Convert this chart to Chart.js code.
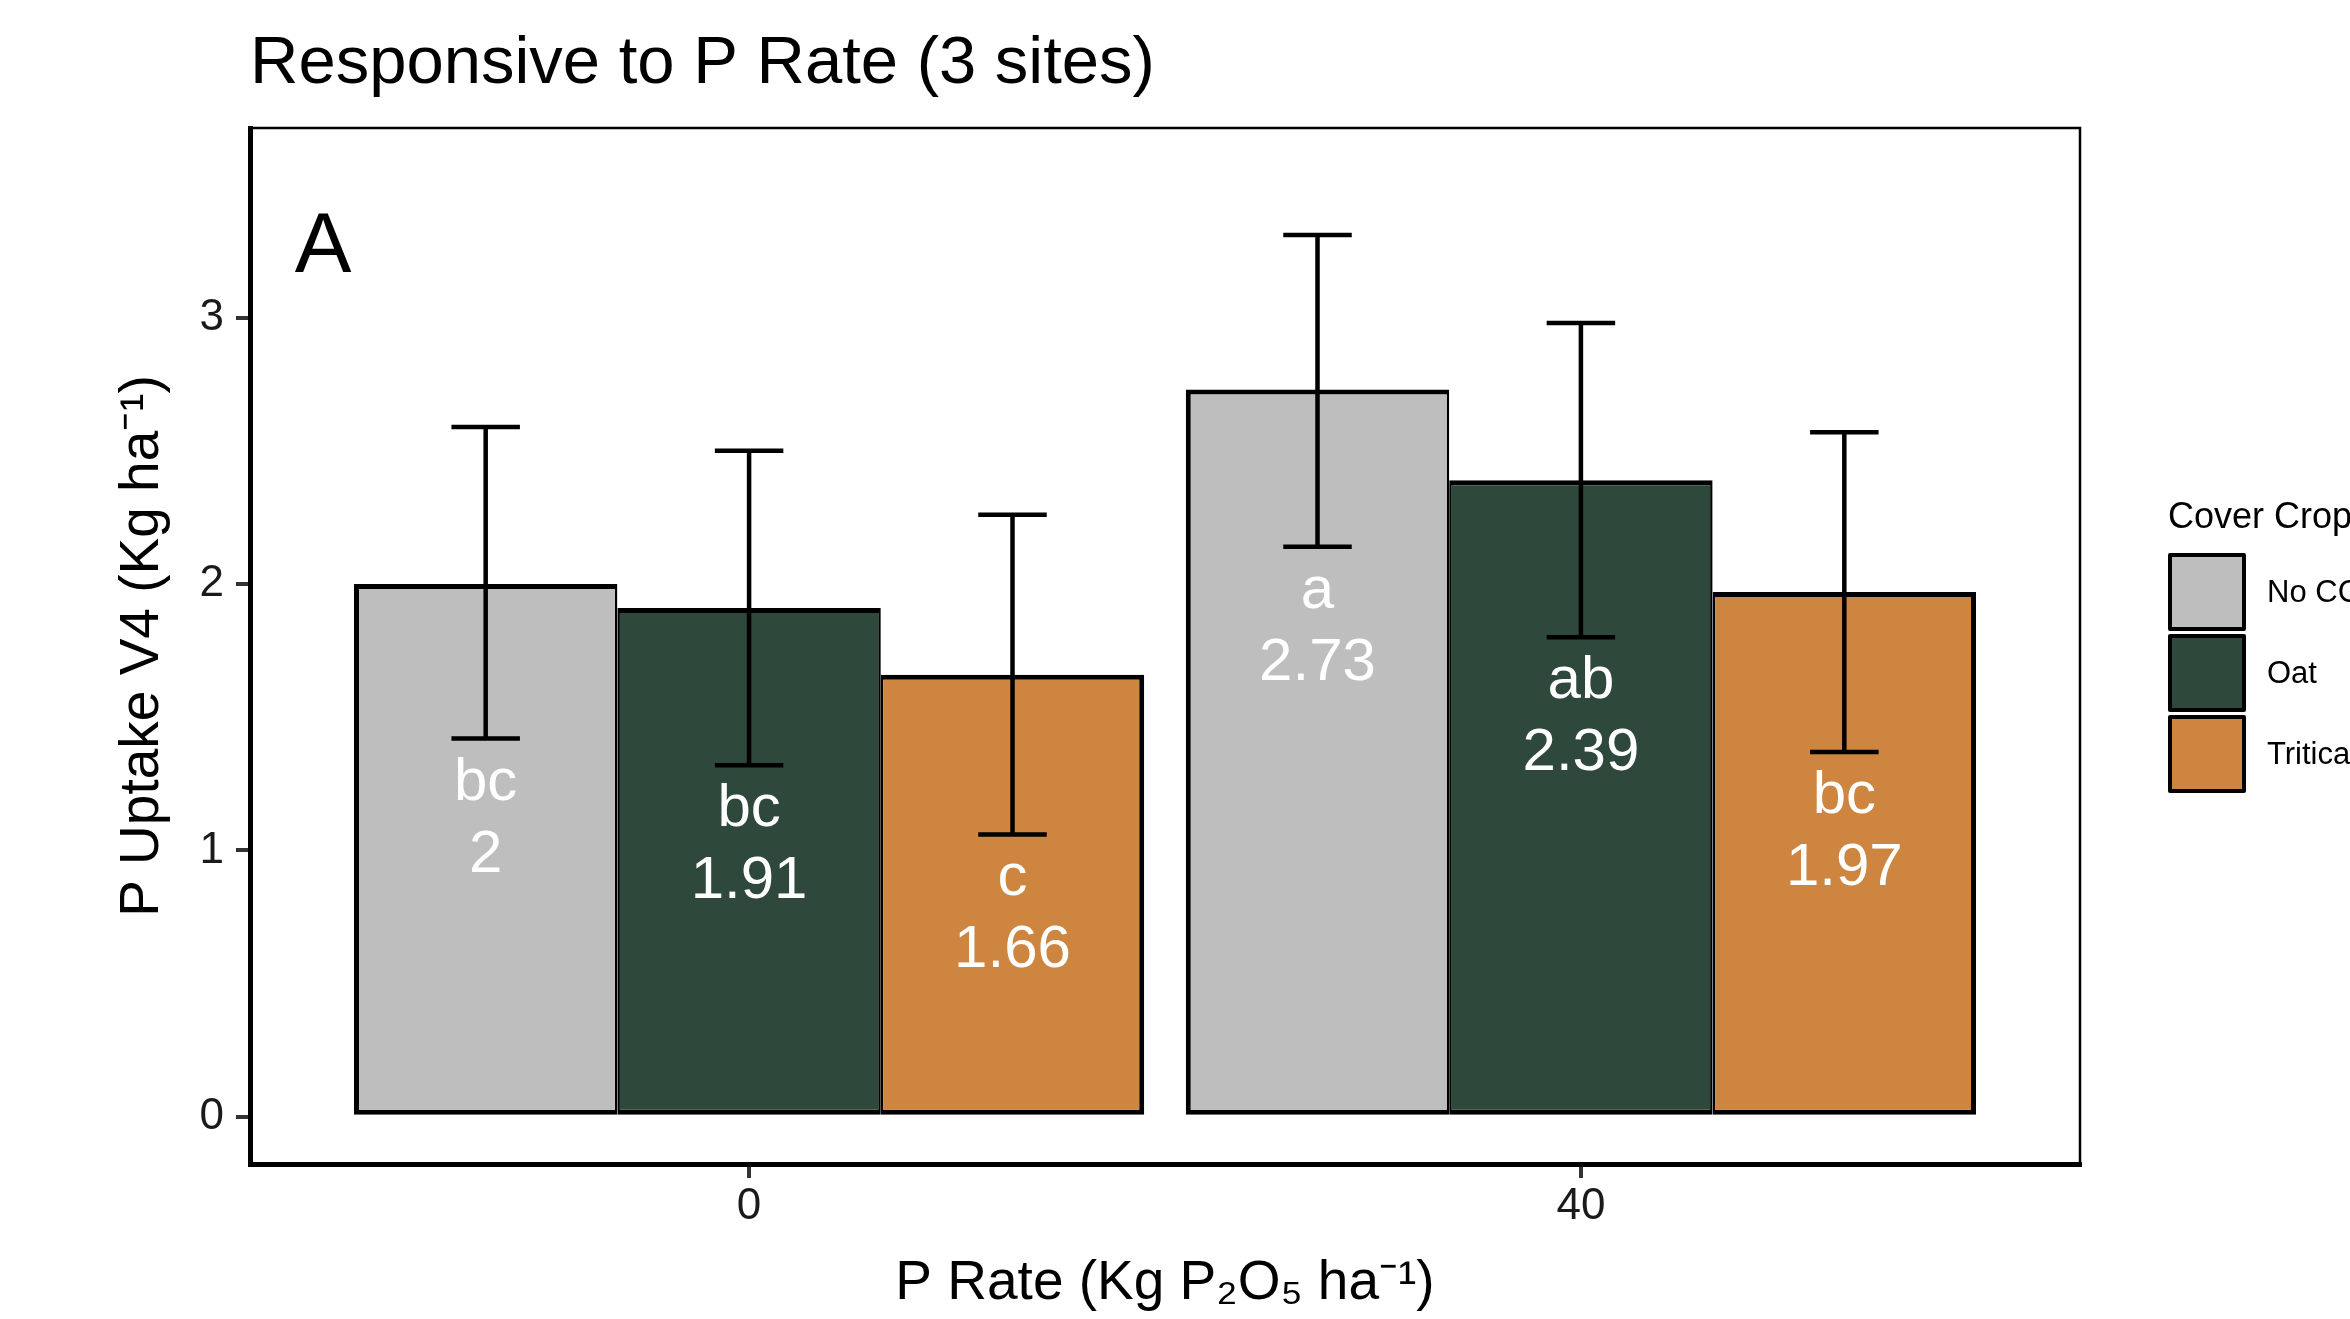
<!DOCTYPE html>
<html>
<head>
<meta charset="utf-8">
<title>Responsive to P Rate (3 sites)</title>
<script src="https://cdn.jsdelivr.net/npm/chart.js@4.4.1/dist/chart.umd.min.js"></script>
<style>
  html, body { margin: 0; padding: 0; background: #fff; }
</style>
</head>
<body>
<canvas id="chart" width="2350" height="1319"></canvas>
<script>
// --- Data ---
const chartTitle = 'Responsive to P Rate (3 sites)';
const panelTag = 'A';
const categories = ['0', '40'];              // P rate (kg P2O5 / ha)
const crops = ['No CC', 'Oat', 'Triticale']; // cover crop groups

const noCC = [2, 2.73];
const oat = [1.91, 2.39];
const triticale = [1.66, 1.97];

// error bar ends
const noCCLow = [1.42, 2.14];
const noCCHigh = [2.59, 3.31];
const oatLow = [1.32, 1.80];
const oatHigh = [2.50, 2.98];
const triticaleLow = [1.06, 1.37];
const triticaleHigh = [2.26, 2.57];

// mean separation letters
const noCCLetters = ['bc', 'a'];
const oatLetters = ['bc', 'ab'];
const triticaleLetters = ['c', 'bc'];

const yTicks = [0, 1, 2, 3];

// --- Styling ---
Chart.defaults.font.family = '"Liberation Sans", Arial, Helvetica, sans-serif';
Chart.defaults.color = '#000';

const seriesValues = [noCC, oat, triticale];
const seriesLow = [noCCLow, oatLow, triticaleLow];
const seriesHigh = [noCCHigh, oatHigh, triticaleHigh];
const seriesLetters = [noCCLetters, oatLetters, triticaleLetters];
const fills = ['#BEBEBE', '#2E483B', '#CD853F'];
// shared edges between neighbouring bars get half width so they look like one line
const borders = [
    { top: 5, bottom: 5, left: 5, right: 2.5 },
    { top: 5, bottom: 5, left: 2.5, right: 2.5 },
    { top: 5, bottom: 5, left: 2.5, right: 5 }
];

// error bars, bar labels, panel frame, title, tag and legend
const extrasPlugin = {
    id: 'extras',
    afterDatasetsDraw(chart) {
        const ctx = chart.ctx;
        const yScale = chart.scales.y;
        ctx.save();
        chart.data.datasets.forEach((ds, k) => {
            const meta = chart.getDatasetMeta(k);
            meta.data.forEach((bar, i) => {
                const x = bar.x;
                const cap = bar.width * 0.13;
                const yLo = yScale.getPixelForValue(seriesLow[k][i]);
                const yHi = yScale.getPixelForValue(seriesHigh[k][i]);

                // labels inside the bar
                ctx.fillStyle = '#fff';
                ctx.font = '60px "Liberation Sans", Arial, sans-serif';
                ctx.textAlign = 'center';
                ctx.textBaseline = 'alphabetic';
                ctx.fillText(seriesLetters[k][i], x, yLo + 61);
                ctx.fillText(String(seriesValues[k][i]), x, yLo + 133);

                // error bar
                ctx.strokeStyle = '#000';
                ctx.lineWidth = 4.5;
                ctx.lineCap = 'butt';
                ctx.beginPath();
                ctx.moveTo(x, yHi);
                ctx.lineTo(x, yLo);
                ctx.moveTo(x - cap, yHi);
                ctx.lineTo(x + cap, yHi);
                ctx.moveTo(x - cap, yLo);
                ctx.lineTo(x + cap, yLo);
                ctx.stroke();
            });
        });
        ctx.restore();
    },
    afterDraw(chart) {
        const ctx = chart.ctx;
        const area = chart.chartArea;
        const xScale = chart.scales.x;
        const yScale = chart.scales.y;
        ctx.save();

        // thin panel frame
        ctx.strokeStyle = '#000';
        ctx.lineWidth = 2.5;
        ctx.strokeRect(area.left, area.top, area.right - area.left, area.bottom - area.top);

        // title
        ctx.fillStyle = '#000';
        ctx.font = '67px "Liberation Sans", Arial, sans-serif';
        ctx.textAlign = 'left';
        ctx.textBaseline = 'alphabetic';
        ctx.fillText(chartTitle, area.left, 83);

        // panel tag
        ctx.font = '85px "Liberation Sans", Arial, sans-serif';
        ctx.textAlign = 'center';
        ctx.fillText(panelTag, xScale.getPixelForValue(0.488), yScale.getPixelForValue(3.17));

        // legend
        const lx = area.right + 88;
        ctx.textAlign = 'left';
        ctx.font = '36px "Liberation Sans", Arial, sans-serif';
        ctx.fillText('Cover Crop', lx, 528);
        chart.data.datasets.forEach((ds, k) => {
            const top = 555 + k * 81;
            ctx.fillStyle = ds.backgroundColor;
            ctx.fillRect(lx + 2, top, 74, 74);
            ctx.strokeStyle = '#000';
            ctx.lineWidth = 4;
            ctx.lineJoin = 'round';
            ctx.strokeRect(lx + 2, top, 74, 74);
            ctx.fillStyle = '#000';
            ctx.font = '31px "Liberation Sans", Arial, sans-serif';
            ctx.textBaseline = 'middle';
            ctx.fillText(ds.label, lx + 99, top + 38);
            ctx.textBaseline = 'alphabetic';
        });
        ctx.restore();
    }
};

const axisGrid = {
    display: true,
    drawOnChartArea: false,
    drawTicks: true,
    offset: false,
    tickLength: 14,
    lineWidth: 4,
    tickWidth: 4,
    color: '#333'
};

new Chart(document.getElementById('chart'), {
    type: 'bar',
    data: {
        datasets: crops.map((name, k) => ({
            label: name,
            data: seriesValues[k].map((v, i) => ({ x: i + 1, y: v })),
            backgroundColor: fills[k],
            borderColor: '#000',
            borderWidth: borders[k],
            borderSkipped: false,
            categoryPercentage: 0.95,
            barPercentage: 1
        }))
    },
    options: {
        responsive: false,
        animation: false,
        devicePixelRatio: 1,
        layout: { padding: { top: 128, right: 270, bottom: 0, left: 0 } },
        plugins: {
            legend: { display: false },
            title: { display: false },
            tooltip: { enabled: false }
        },
        scales: {
            x: {
                type: 'linear',
                offset: false,
                min: 0.4,
                max: 2.6,
                afterBuildTicks: scale => {
                    scale.ticks = categories.map((c, i) => ({ value: i + 1 }));
                },
                afterFit: scale => { scale.height = 155; },
                ticks: {
                    callback: v => categories[v - 1],
                    font: { size: 44, lineHeight: 1 },
                    color: '#1a1a1a',
                    padding: 7,
                    maxRotation: 0,
                    autoSkip: false
                },
                grid: axisGrid,
                border: { display: true, color: '#000', width: 5 },
                title: {
                    display: true,
                    text: 'P Rate (Kg P\u2082O\u2085 ha\u207B\u00B9)',
                    font: { size: 55, lineHeight: 1 },
                    color: '#000',
                    padding: { top: 0, bottom: 8 }
                }
            },
            y: {
                type: 'linear',
                min: -0.177,
                max: 3.712,
                afterBuildTicks: scale => {
                    scale.ticks = yTicks.map(v => ({ value: v }));
                },
                afterFit: scale => { scale.width = 250; },
                ticks: {
                    font: { size: 44, lineHeight: 1 },
                    color: '#1a1a1a',
                    padding: 12
                },
                grid: axisGrid,
                border: { display: true, color: '#000', width: 5 },
                title: {
                    display: true,
                    text: 'P Uptake V4 (Kg ha\u207B\u00B9)',
                    font: { size: 55, lineHeight: 1 },
                    color: '#000',
                    padding: { top: 115, bottom: 0 }
                }
            }
        }
    },
    plugins: [extrasPlugin]
});
</script>
</body>
</html>
